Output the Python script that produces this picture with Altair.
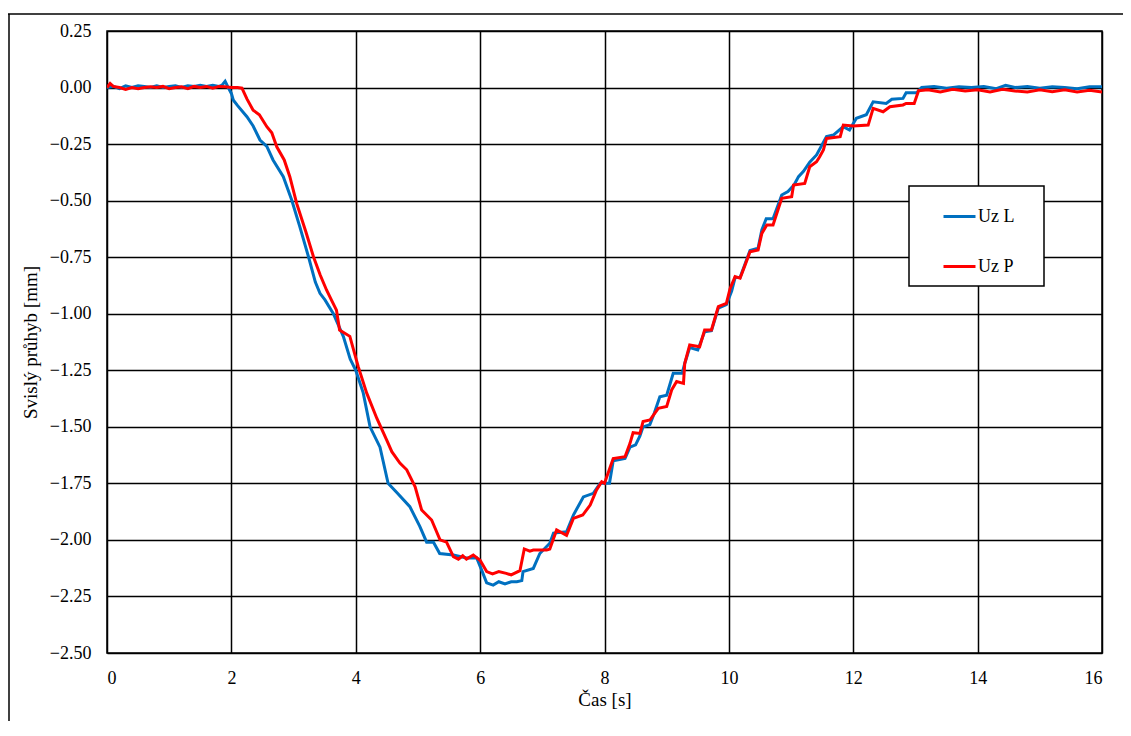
import altair as alt
import pandas as pd

# Uz L (blue)
t_L = [0.0, 0.1, 0.2, 0.3, 0.4, 0.5, 0.6, 0.7, 0.8, 0.9, 1.0, 1.1, 1.2, 1.3, 1.4, 1.5, 1.6, 1.7, 1.8, 1.85,
       1.9, 1.95, 2.0, 2.03, 2.1, 2.25, 2.35, 2.46, 2.57, 2.67, 2.835, 2.97, 3.1, 3.24, 3.35, 3.425, 3.505,
       3.64, 3.8, 3.91, 4.0, 4.12, 4.23, 4.39, 4.52, 4.66, 4.87, 5.03, 5.14, 5.25, 5.35, 5.57, 5.78, 5.945,
       6.02, 6.105, 6.21, 6.3, 6.4, 6.5, 6.59, 6.67, 6.69, 6.855, 6.96, 7.12, 7.18, 7.39, 7.5, 7.66, 7.82,
       7.93, 8.08, 8.14, 8.33, 8.41, 8.5, 8.57, 8.62, 8.73, 8.8, 8.89, 9.0, 9.105, 9.25, 9.29, 9.37, 9.5,
       9.61, 9.72, 9.83, 9.96, 10.045, 10.1, 10.18, 10.26, 10.34, 10.47, 10.53, 10.6, 10.71, 10.79, 10.85,
       10.95, 11.05, 11.12, 11.2, 11.3, 11.41, 11.57, 11.68, 11.84, 11.94, 12.05, 12.21, 12.32, 12.53,
       12.62, 12.8, 12.85, 13.02, 13.1, 13.3, 13.5, 13.7, 13.9, 14.1, 14.3, 14.45, 14.6, 14.8, 15.0, 15.2,
       15.4, 15.6, 15.8, 16.0]
uz_L = [0.0, 0.005, -0.005, 0.008, 0.0, 0.008, 0.005, 0.0, 0.008, 0.0, 0.005, 0.008, 0.0, 0.008, 0.005, 0.01,
        0.005, 0.01, 0.005, 0.01, 0.028, 0.0, -0.026, -0.055, -0.08, -0.129, -0.17, -0.232, -0.26, -0.32,
        -0.394, -0.497, -0.615, -0.748, -0.86, -0.91, -0.939, -1.0, -1.1, -1.2, -1.25, -1.35, -1.5, -1.59,
        -1.75, -1.79, -1.853, -1.94, -2.01, -2.01, -2.06, -2.067, -2.08, -2.08, -2.13, -2.19, -2.2, -2.185,
        -2.195, -2.185, -2.185, -2.18, -2.14, -2.126, -2.06, -2.015, -1.97, -1.964, -1.89, -1.81, -1.794,
        -1.75, -1.75, -1.65, -1.64, -1.59, -1.58, -1.54, -1.5, -1.49, -1.44, -1.367, -1.36, -1.263, -1.263,
        -1.22, -1.15, -1.16, -1.08, -1.075, -0.975, -0.96, -0.9, -0.84, -0.84, -0.78, -0.72, -0.71, -0.63,
        -0.58, -0.58, -0.52, -0.475, -0.46, -0.43, -0.394, -0.37, -0.33, -0.298, -0.217, -0.21, -0.173,
        -0.188, -0.136, -0.12, -0.063, -0.07, -0.052, -0.048, -0.023, -0.023, 0.0, 0.005, -0.003, 0.003,
        0.0, 0.005, -0.005, 0.01, 0.0, 0.005, -0.003, 0.003, 0.0, -0.005, 0.003, 0.003]

# Uz P (red)
t_P = [0.0, 0.05, 0.1, 0.2, 0.3, 0.4, 0.5, 0.6, 0.7, 0.8, 0.9, 1.0, 1.1, 1.2, 1.3, 1.4, 1.5, 1.6, 1.7, 1.8,
       1.9, 2.0, 2.1, 2.17, 2.25, 2.35, 2.45, 2.57, 2.65, 2.73, 2.85, 2.94, 3.05, 3.2, 3.32, 3.43, 3.53,
       3.61, 3.69, 3.74, 3.905, 4.04, 4.175, 4.34, 4.5, 4.58, 4.71, 4.82, 4.955, 5.06, 5.22, 5.355, 5.46,
       5.57, 5.65, 5.72, 5.78, 5.89, 6.0, 6.105, 6.2, 6.3, 6.42, 6.5, 6.64, 6.71, 6.8, 6.855, 7.07, 7.12,
       7.23, 7.39, 7.5, 7.65, 7.77, 7.87, 7.955, 8.0, 8.14, 8.33, 8.41, 8.46, 8.57, 8.62, 8.73, 8.865, 9.0,
       9.08, 9.16, 9.27, 9.29, 9.37, 9.53, 9.61, 9.72, 9.83, 9.96, 10.02, 10.1, 10.18, 10.26, 10.34, 10.47,
       10.53, 10.61, 10.71, 10.79, 10.85, 11.01, 11.04, 11.22, 11.3, 11.41, 11.46, 11.52, 11.57, 11.79,
       11.84, 12.0, 12.24, 12.32, 12.48, 12.59, 12.8, 12.85, 12.98, 13.05, 13.2, 13.4, 13.6, 13.8, 14.0,
       14.2, 14.4, 14.6, 14.8, 15.0, 15.2, 15.4, 15.6, 15.8, 16.0]
uz_P = [0.0, 0.018, 0.005, 0.0, -0.008, 0.0, -0.005, 0.0, 0.003, 0.0, 0.005, -0.005, 0.0, 0.003, -0.005,
        0.005, 0.0, 0.005, -0.003, 0.005, 0.003, 0.0, 0.0, -0.003, -0.05, -0.1, -0.12, -0.173, -0.2, -0.262,
        -0.32, -0.394, -0.512, -0.64, -0.748, -0.83, -0.895, -0.94, -0.984, -1.072, -1.1, -1.234, -1.35,
        -1.463, -1.56, -1.61, -1.66, -1.69, -1.765, -1.868, -1.912, -2.0, -2.01, -2.074, -2.085, -2.07,
        -2.085, -2.067, -2.09, -2.14, -2.15, -2.14, -2.148, -2.155, -2.136, -2.04, -2.05, -2.045, -2.045,
        -2.04, -1.956, -1.98, -1.905, -1.89, -1.846, -1.78, -1.743, -1.75, -1.64, -1.632, -1.573, -1.526,
        -1.529, -1.477, -1.47, -1.418, -1.41, -1.337, -1.3, -1.308, -1.22, -1.138, -1.146, -1.072, -1.072,
        -0.969, -0.954, -0.888, -0.836, -0.843, -0.785, -0.726, -0.718, -0.645, -0.608, -0.608, -0.54,
        -0.49, -0.483, -0.431, -0.424, -0.35, -0.328, -0.306, -0.276, -0.225, -0.217, -0.166, -0.17,
        -0.166, -0.092, -0.107, -0.085, -0.077, -0.07, -0.07, -0.014, -0.01, -0.02, -0.008, -0.015, -0.01,
        -0.02, -0.008, -0.015, -0.02, -0.01, -0.018, -0.01, -0.02, -0.012, -0.02]

series_names = ["Uz L", "Uz P"]
series_colors = ["#0070C0", "#FF0000"]
x_ticks = [0, 2, 4, 6, 8, 10, 12, 14, 16]
y_ticks = [0.25, 0.0, -0.25, -0.5, -0.75, -1.0, -1.25, -1.5, -1.75, -2.0, -2.25, -2.5]

df = pd.concat([
    pd.DataFrame({"t": t_L, "v": uz_L, "s": series_names[0]}),
    pd.DataFrame({"t": t_P, "v": uz_P, "s": series_names[1]}),
])

FONT = "Liberation Serif"

lines = alt.Chart(df).mark_line(strokeWidth=3, clip=True).encode(
    x=alt.X("t:Q", scale=alt.Scale(domain=[0, 16], nice=False),
            axis=alt.Axis(values=x_ticks, title="Čas [s]", format="d", titlePadding=3)),
    y=alt.Y("v:Q", scale=alt.Scale(domain=[-2.5, 0.25], nice=False),
            axis=alt.Axis(values=y_ticks, title="Svislý průhyb [mm]", format=".2f", titlePadding=9)),
    color=alt.Color("s:N", scale=alt.Scale(domain=series_names, range=series_colors),
                    legend=alt.Legend(title=None, orient="none", legendX=802, legendY=155,
                                      symbolType="stroke", symbolSize=1024, symbolStrokeWidth=3)),
    order="s:N",
)

legend_box = alt.Chart(pd.DataFrame({"a": [0]})).mark_rect(
    fill="white", stroke="black", strokeWidth=1.5).encode(
    x=alt.value(802), x2=alt.value(937), y=alt.value(155), y2=alt.value(255))

frame_top = alt.Chart(pd.DataFrame({"a": [0]})).mark_rule(color="black", strokeWidth=1.5).encode(
    x=alt.value(-99), x2=alt.value(1020), y=alt.value(-17))
frame_left = alt.Chart(pd.DataFrame({"a": [0]})).mark_rule(color="black", strokeWidth=1.5).encode(
    x=alt.value(-98), y=alt.value(-17), y2=alt.value(700))

chart = alt.layer(frame_top, frame_left, legend_box, lines).properties(
    width=995, height=622,
    autosize=alt.AutoSizeParams(type="none"),
    padding={"left": 99, "top": 23, "right": 21, "bottom": 68},
).configure(font=FONT).configure_view(stroke="black", strokeWidth=1.5).configure_axis(
    domain=False, ticks=False, grid=True, gridColor="black", gridWidth=1.5, gridOpacity=1,
    labelFont=FONT, labelFontSize=18, labelColor="#000", labelPadding=16,
    titleFont=FONT, titleFontSize=19, titleColor="#000", titleFontWeight="normal",
).configure_legend(
    labelFont=FONT, labelFontSize=18, labelColor="#000",
    padding=13, rowPadding=23, symbolOffset=20, labelOffset=1,
)

chart.save("out.html", embed_options={"renderer": "svg", "actions": False})
